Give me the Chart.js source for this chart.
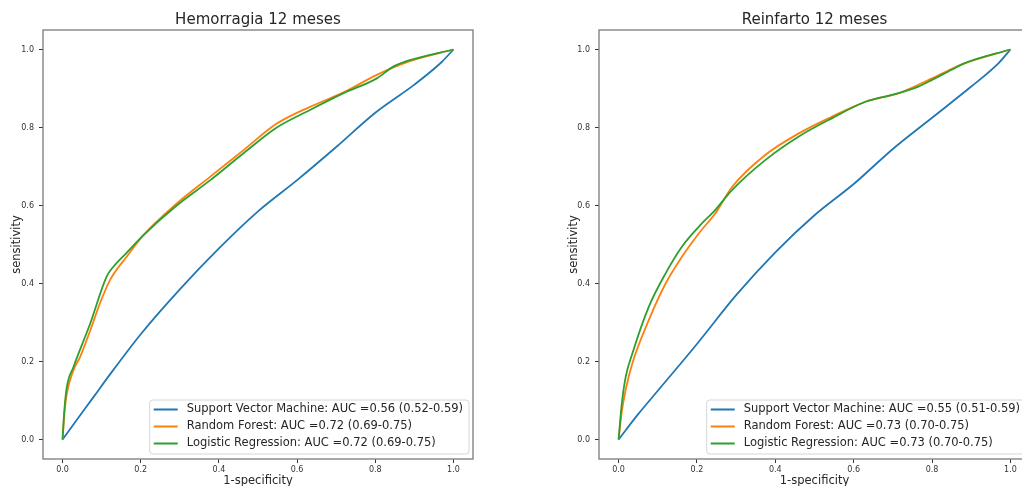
<!DOCTYPE html>
<html>
<head>
<meta charset="utf-8">
<script src="https://cdn.jsdelivr.net/npm/chart.js@4.4.0/dist/chart.umd.min.js"></script>
<style>
html, body { margin: 0; padding: 0; background: #fff; overflow: hidden; width: 1022px; height: 486px; }
.box { position: absolute; top: 0; width: 490px; height: 489px; }
#left { left: 0; }
#right { left: 557px; }
</style>
</head>
<body>
<div class="box" id="left"><canvas id="hem_chart"></canvas></div>
<div class="box" id="right"><canvas id="rei_chart"></canvas></div>
<script>
// Hemorragia 12 meses
var hemSvmX = [0, 0.04, 0.08, 0.12, 0.2, 0.3, 0.4, 0.5, 0.6, 0.7, 0.8, 0.9, 0.97, 1];
var hemSvmY = [0, 0.055, 0.11, 0.165, 0.27, 0.385, 0.49, 0.585, 0.665, 0.75, 0.838, 0.91, 0.968, 1];
var hemRfX = [0, 0.005, 0.011, 0.028, 0.045, 0.071, 0.096, 0.122, 0.165, 0.207, 0.292, 0.378, 0.463, 0.548, 0.633, 0.719, 0.804, 0.889, 1];
var hemRfY = [0, 0.07, 0.118, 0.178, 0.212, 0.28, 0.35, 0.41, 0.47, 0.524, 0.605, 0.674, 0.742, 0.81, 0.853, 0.89, 0.935, 0.97, 1];
var hemLrX = [0, 0.005, 0.011, 0.028, 0.071, 0.113, 0.13, 0.165, 0.207, 0.292, 0.378, 0.463, 0.548, 0.633, 0.719, 0.804, 0.846, 0.889, 1];
var hemLrY = [0, 0.08, 0.135, 0.186, 0.298, 0.418, 0.443, 0.48, 0.524, 0.60, 0.665, 0.734, 0.80, 0.845, 0.888, 0.926, 0.956, 0.973, 1];
var hemLabels = [
    "Support Vector Machine: AUC =0.56 (0.52-0.59)",
    "Random Forest: AUC =0.72 (0.69-0.75)",
    "Logistic Regression: AUC =0.72 (0.69-0.75)"
];

// Reinfarto 12 meses
var reiSvmX = [0, 0.05, 0.1, 0.2, 0.3, 0.4, 0.5, 0.6, 0.7, 0.8, 0.9, 0.97, 1];
var reiSvmY = [0, 0.065, 0.125, 0.245, 0.37, 0.48, 0.575, 0.655, 0.745, 0.825, 0.905, 0.965, 1];
var reiRfX = [0, 0.008, 0.018, 0.035, 0.077, 0.12, 0.162, 0.205, 0.247, 0.29, 0.375, 0.46, 0.545, 0.63, 0.715, 0.80, 0.884, 1];
var reiRfY = [0, 0.07, 0.127, 0.195, 0.306, 0.40, 0.469, 0.529, 0.58, 0.648, 0.73, 0.785, 0.828, 0.866, 0.888, 0.926, 0.965, 1];
var reiLrX = [0, 0.008, 0.018, 0.035, 0.077, 0.12, 0.162, 0.205, 0.247, 0.29, 0.375, 0.46, 0.545, 0.63, 0.715, 0.765, 0.80, 0.85, 0.884, 1];
var reiLrY = [0, 0.09, 0.16, 0.22, 0.34, 0.426, 0.495, 0.546, 0.589, 0.64, 0.717, 0.777, 0.824, 0.866, 0.888, 0.905, 0.922, 0.948, 0.965, 1];
var reiLabels = [
    "Support Vector Machine: AUC =0.55 (0.51-0.59)",
    "Random Forest: AUC =0.73 (0.70-0.75)",
    "Logistic Regression: AUC =0.73 (0.70-0.75)"
];

var tickValues = [0, 0.2, 0.4, 0.6, 0.8, 1.0];
var colors = ['#1f77b4', '#ff7f0e', '#2ca02c'];
var FONT = '"DejaVu Sans", sans-serif';

function toPoints(xs, ys) {
    return xs.map(function (x, i) { return { x: x, y: ys[i] }; });
}

// matplotlib style frame around the axes
var framePlugin = {
    id: 'frame',
    afterDatasetsDraw: function (chart) {
        var a = chart.chartArea, ctx = chart.ctx;
        ctx.save();
        ctx.strokeStyle = '#7a7a7a';
        ctx.lineWidth = 1.3;
        ctx.strokeRect(a.left, a.top, a.right - a.left, a.bottom - a.top);
        ctx.restore();
    }
};

// legend box in the lower right corner of the plot
var legendPlugin = {
    id: 'legendBox',
    afterDraw: function (chart) {
        var a = chart.chartArea, ctx = chart.ctx;
        var sets = chart.data.datasets;
        ctx.save();
        ctx.font = '11.5px ' + FONT;
        var w = 0;
        sets.forEach(function (d) { w = Math.max(w, ctx.measureText(d.label).width); });
        var boxW = w + 43, boxH = 54;
        var x0 = a.right - 4 - boxW, y0 = a.bottom - 5 - boxH;
        ctx.beginPath();
        ctx.roundRect(x0, y0, boxW, boxH, 3);
        ctx.fillStyle = 'rgba(255,255,255,0.8)';
        ctx.fill();
        ctx.strokeStyle = '#d6d6d6';
        ctx.lineWidth = 1;
        ctx.stroke();
        ctx.textBaseline = 'middle';
        sets.forEach(function (d, i) {
            var y = y0 + 9.5 + i * 17;
            ctx.strokeStyle = d.borderColor;
            ctx.lineWidth = 2;
            ctx.beginPath();
            ctx.moveTo(x0 + 4, y);
            ctx.lineTo(x0 + 28, y);
            ctx.stroke();
            ctx.fillStyle = '#262626';
            ctx.fillText(d.label, x0 + 37, y);
        });
        ctx.restore();
    }
};

function getRocConfig(title, labels, series, axisWidth) {
    return {
        type: 'line',
        data: {
            datasets: series.map(function (s, i) {
                return {
                    label: labels[i],
                    data: s,
                    borderColor: colors[i],
                    backgroundColor: colors[i],
                    borderWidth: 1.8,
                    pointRadius: 0,
                    fill: false,
                    cubicInterpolationMode: 'monotone',
                    order: 2 - i
                };
            })
        },
        options: {
            responsive: true,
            maintainAspectRatio: false,
            animation: false,
            layout: { padding: { left: 0, right: 17, top: 0, bottom: 0 } },
            plugins: {
                legend: { display: false },
                tooltip: { enabled: false },
                title: {
                    display: true,
                    text: title,
                    fullSize: false,
                    color: '#262626',
                    font: { family: FONT, size: 15, weight: 'normal' },
                    padding: { top: 11, bottom: 1 }
                }
            },
            scales: {
                x: {
                    type: 'linear',
                    min: -0.05,
                    max: 1.05,
                    afterBuildTicks: function (s) { s.ticks = tickValues.map(function (v) { return { value: v }; }); },
                    afterFit: function (s) { s.height = 30; },
                    border: { display: false },
                    grid: { drawOnChartArea: false, drawTicks: true, tickLength: 4, color: '#333', tickWidth: 1 },
                    ticks: {
                        padding: 2,
                        color: '#333',
                        font: { family: FONT, size: 8 },
                        maxRotation: 0,
                        callback: function (v) { return Number(v).toFixed(1); }
                    },
                    title: {
                        display: true,
                        text: '1-specificity',
                        color: '#262626',
                        font: { family: FONT, size: 11.5 },
                        padding: { top: 0, bottom: 1.5 }
                    }
                },
                y: {
                    type: 'linear',
                    min: -0.05,
                    max: 1.05,
                    afterBuildTicks: function (s) { s.ticks = tickValues.map(function (v) { return { value: v }; }); },
                    afterFit: function (s) { s.width = axisWidth; },
                    border: { display: false },
                    grid: { drawOnChartArea: false, drawTicks: true, tickLength: 4, color: '#333', tickWidth: 1 },
                    ticks: {
                        padding: 5,
                        color: '#333',
                        font: { family: FONT, size: 8 },
                        callback: function (v) { return Number(v).toFixed(1); }
                    },
                    title: {
                        display: true,
                        text: 'sensitivity',
                        color: '#262626',
                        font: { family: FONT, size: 11.5 },
                        padding: { top: 10, bottom: 0 }
                    }
                }
            }
        },
        plugins: [framePlugin, legendPlugin]
    };
}

new Chart(document.getElementById('hem_chart').getContext('2d'),
    getRocConfig('Hemorragia 12 meses', hemLabels,
        [toPoints(hemSvmX, hemSvmY), toPoints(hemRfX, hemRfY), toPoints(hemLrX, hemLrY)], 43));
new Chart(document.getElementById('rei_chart').getContext('2d'),
    getRocConfig('Reinfarto 12 meses', reiLabels,
        [toPoints(reiSvmX, reiSvmY), toPoints(reiRfX, reiRfY), toPoints(reiLrX, reiLrY)], 42));
</script>
</body>
</html>
